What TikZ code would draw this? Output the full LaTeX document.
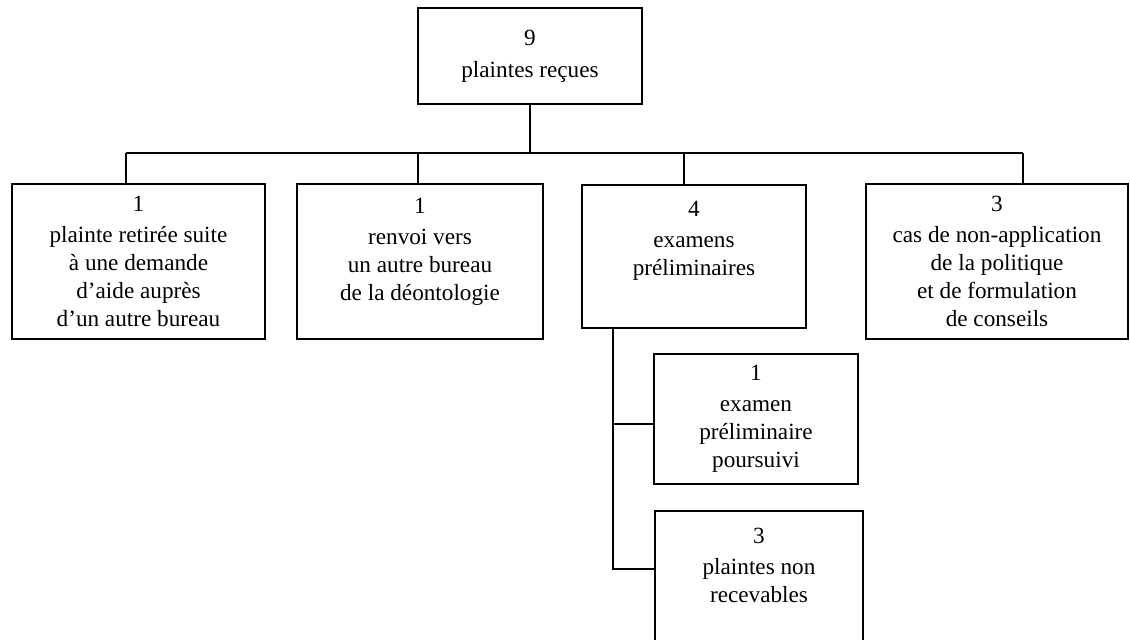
\documentclass[tikz,border=0pt]{standalone}
\usepackage{fontspec}
\setmainfont{Liberation Serif}
\begin{document}
\begin{tikzpicture}[x=0.025cm,y=-0.025cm,
    box/.style={draw,line width=1.4pt,align=center,inner sep=0pt,
      font=\fontsize{16.5}{20}\selectfont}]
      \clip (0,0) rectangle (1130,639);
      \node[box,minimum width=5.6cm,minimum height=2.4cm] (top) at (530,56) {9\\[3pt]plaintes reçues};
      \node[box,minimum width=6.325cm,minimum height=3.875cm] (b1) at (138.5,261.5)
        {1\\[2pt]plainte retirée suite\\à une demande\\d’aide auprès\\d’un autre bureau};
      \node[box,minimum width=6.15cm,minimum height=3.875cm] (b2) at (420,261.5)
        {1\\[2pt]renvoi vers\\un autre bureau\\de la déontologie\\[-9pt]\strut};
      \node[box,minimum width=5.6cm,minimum height=3.575cm] (b3) at (694,256.5)
        {4\\[2pt]examens\\préliminaires\\ \strut};
      \node[box,minimum width=6.55cm,minimum height=3.875cm] (b4) at (997,261.5)
        {3\\[2pt]cas de non-application\\de la politique\\et de formulation\\de conseils};
      \node[box,minimum width=5.1cm,minimum height=3.25cm] (s1) at (756,419)
        {1\\[2pt]examen\\préliminaire\\poursuivi};
      \node[box,minimum width=5.2cm,minimum height=4.35cm] (s2) at (759,598)
        {3\\[2pt]plaintes non\\recevables\\ \strut\\ \strut};
      % bar under the top box
      \coordinate (d1) at (126,153);
      \coordinate (d2) at (418,153);
      \coordinate (d3) at (684,153);
      \coordinate (d4) at (1023,153);
      \begin{scope}[line width=1.4pt]
        \draw (top.south) -- (top.south |- d1);
        \draw (d1) -- (d4);
        \draw (d1) -- (d1 |- b1.north);
        \draw (d2) -- (d2 |- b2.north);
        \draw (d3) -- (d3 |- b3.north);
        \draw (d4) -- (d4 |- b4.north);
      \end{scope}
      % fork below the examens box
      \coordinate (f1) at (613,424);
      \coordinate (f2) at (613,569);
      \begin{scope}[line width=1.4pt]
        \draw (f1 |- b3.south) -- (f2) -- (f2 -| s2.west);
        \draw (f1) -- (f1 -| s1.west);
      \end{scope}
    \end{tikzpicture}
\end{document}
